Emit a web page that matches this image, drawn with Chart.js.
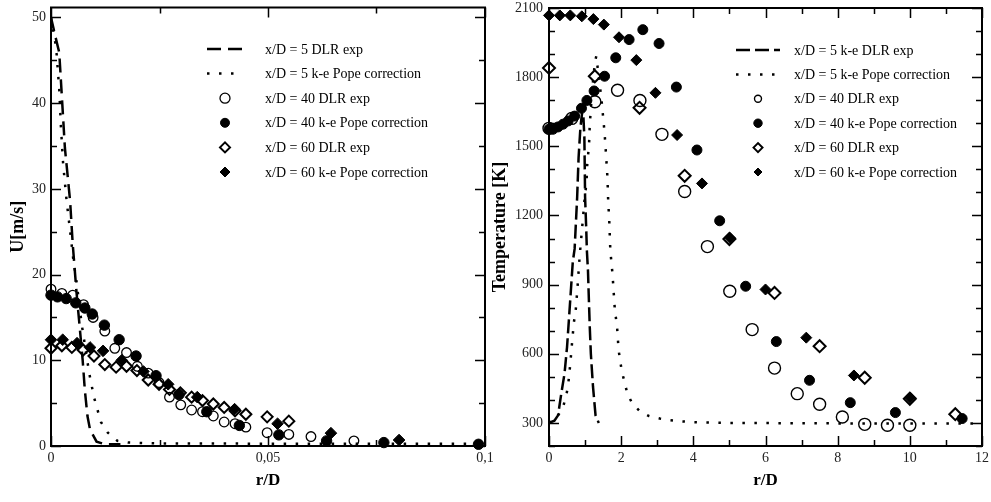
<!DOCTYPE html>
<html>
<head>
<meta charset="utf-8">
<script src="https://cdn.jsdelivr.net/npm/chart.js@4.4.1/dist/chart.umd.min.js"></script>
<style>
  html, body { margin: 0; padding: 0; background: #fff; }
  #wrap { position: relative; width: 991px; height: 502px; overflow: hidden; }
  canvas { position: absolute; top: 0; }
  #velChart { left: 0; }
  #tempChart { left: 488px; }
</style>
</head>
<body>
<div id="wrap">
  <canvas id="velChart" width="495" height="502"></canvas>
  <canvas id="tempChart" width="503" height="502"></canvas>
</div>
<script>
/* ============================================
   Data
   ============================================ */

const velLabels = [
  'x/D = 5 DLR exp',
  'x/D = 5 k-e Pope correction',
  'x/D = 40 DLR exp',
  'x/D = 40 k-e Pope correction',
  'x/D = 60 DLR exp',
  'x/D = 60 k-e Pope correction'
];
const tempLabels = [
  'x/D = 5 k-e DLR exp',
  'x/D = 5 k-e Pope correction',
  'x/D = 40 DLR exp',
  'x/D = 40 k-e Pope correction',
  'x/D = 60 DLR exp',
  'x/D = 60 k-e Pope correction'
];

// U [m/s] vs r/D
const velX5Exp = [[0,50],[0.0009,48],[0.0019,45.9],[0.0032,34.8],[0.0044,28.6],[0.005,23.6],[0.0059,17.8],
  [0.0065,14.5],[0.0073,10],[0.0078,6.5],[0.0084,3.5],[0.009,1.9],[0.0105,0.5],[0.0124,0.2],[0.016,0.2]];
const velX5Pope = [[0,50],[0.0009,47.4],[0.0013,45.7],[0.0019,41.6],[0.0023,37.1],[0.0028,32.9],[0.0036,28.6],
  [0.0044,25.1],[0.0052,21.5],[0.0058,19.5],[0.0065,16.6],[0.0071,14.1],[0.0079,11.5],[0.0088,8.5],[0.0099,5.7],
  [0.0115,2.8],[0.0131,1.55],[0.0153,0.6],[0.0178,0.4],[0.025,0.3],[0.05,0.27],[0.1,0.25]];
const velX40Exp = [[0,18.3],[0.0025,17.8],[0.005,17.6],[0.0075,16.5],[0.0097,15.0],[0.0124,13.4],[0.0147,11.4],
  [0.0174,10.9],[0.0199,9.3],[0.0224,8.5],[0.0249,7.4],[0.0273,5.7],[0.0299,4.8],[0.0324,4.2],[0.0349,4.0],
  [0.0374,3.5],[0.0399,2.8],[0.0424,2.6],[0.0449,2.2],[0.0498,1.55],[0.0548,1.35],[0.0599,1.1],[0.0698,0.6]];
const velX40Pope = [[0,17.6],[0.0015,17.4],[0.0035,17.2],[0.0057,16.7],[0.0078,16.1],[0.0095,15.4],[0.0123,14.1],
  [0.0157,12.4],[0.0196,10.5],[0.0242,8.2],[0.0295,6.0],[0.0359,4.0],[0.0434,2.4],[0.0525,1.3],[0.0635,0.6],
  [0.0767,0.4],[0.0985,0.2]];
const velX60Exp = [[0,11.4],[0.0025,11.7],[0.0048,11.5],[0.0074,11.2],[0.0099,10.5],[0.0124,9.5],[0.015,9.2],
  [0.0174,9.3],[0.0198,8.8],[0.0224,7.7],[0.0249,7.2],[0.0273,6.6],[0.0298,6.2],[0.0324,5.7],[0.0349,5.3],
  [0.0374,4.9],[0.0399,4.5],[0.0424,4.1],[0.0449,3.7],[0.0498,3.4],[0.0548,2.9]];
const velX60Pope = [[0,12.4],[0.0027,12.4],[0.006,12.0],[0.009,11.5],[0.012,11.1],[0.0163,10.0],[0.0213,8.7],
  [0.027,7.2],[0.0337,5.7],[0.0423,4.3],[0.0522,2.6],[0.0645,1.5],[0.0802,0.7]];

// Temperature [K] vs r/D
const tempX5Exp = [[0,300],[0.15,310],[0.25,333],[0.34,427],[0.43,514],[0.5,629],[0.55,744],[0.6,860],[0.66,1000],
  [0.71,1055],[0.78,1278],[0.82,1451],[0.87,1580],[0.92,1650],[0.95,1640],[0.98,1540],[0.99,1420],[1.0,1280],
  [1.03,1150],[1.05,1047],[1.08,961],[1.1,860],[1.13,715],[1.16,600],[1.22,456],[1.29,333],[1.38,300]];
const tempX5Pope = [[0,300],[0.2,320],[0.3,345],[0.39,369],[0.48,420],[0.53,463],[0.59,557],[0.64,650],[0.69,737],
  [0.74,788],[0.79,888],[0.85,1025],[0.92,1150],[0.99,1278],[1.04,1343],[1.06,1422],[1.11,1509],[1.13,1595],
  [1.2,1750],[1.27,1862],[1.31,1891],[1.38,1800],[1.45,1711],[1.54,1559],[1.58,1466],[1.62,1364],[1.64,1264],
  [1.67,1177],[1.7,1047],[1.76,946],[1.82,802],[1.89,708],[1.93,615],[2.02,521],[2.1,475],[2.17,427],[2.3,387],
  [2.51,352],[2.77,330],[3.07,319],[3.36,312],[3.67,307],[3.96,304],[4.27,302],[5,300],[8,298],[12,298]];
const tempX40Exp = [[0,1578],[0.63,1621],[1.27,1693],[1.9,1743],[2.52,1699],[3.13,1552],[3.76,1304],[4.39,1065],
  [5.01,871],[5.63,705],[6.25,538],[6.88,427],[7.5,381],[8.13,326],[8.75,294],[9.38,290],[10.0,290]];
const tempX40Pope = [[0,1574],[0.11,1574],[0.25,1584],[0.39,1596],[0.53,1610],[0.71,1631],[0.9,1665],[1.05,1699],
  [1.25,1740],[1.54,1804],[1.85,1884],[2.22,1963],[2.6,2006],[3.05,1946],[3.53,1757],[4.1,1484],[4.73,1177],
  [5.45,893],[6.3,653],[7.22,485],[8.35,388],[9.6,345],[11.45,319]];
const tempX60Exp = [[0,1840],[1.27,1804],[2.51,1667],[3.76,1372],[5.0,1098],[6.25,864],[7.5,633],[8.75,496],
  [10.0,405],[11.26,338]];
const tempX60Pope = [[0,2068],[0.3,2068],[0.59,2068],[0.91,2064],[1.23,2052],[1.52,2028],[1.94,1973],[2.42,1874],
  [2.95,1732],[3.55,1549],[4.24,1339],[5.02,1102],[6.0,879],[7.13,670],[8.45,506],[10.01,410]];

/* ============================================
   Helpers
   ============================================ */

const SERIF = '"Liberation Serif", "DejaVu Serif", serif';
const toXY = arr => arr.map(p => ({ x: p[0], y: p[1] }));

function lineSet(label, pts, dash) {
  return {
    label, data: toXY(pts), showLine: true, tension: 0,
    borderColor: '#000', borderWidth: 2.5, borderDash: dash,
    pointRadius: 0, pointHoverRadius: 0, fill: false
  };
}

function markerSet(label, pts, style, radius, filled, bw) {
  return {
    label, data: toXY(pts), showLine: false, clip: false,
    pointStyle: style, pointRadius: radius, pointHoverRadius: radius,
    pointBorderWidth: bw, borderColor: '#000',
    pointBackgroundColor: filled ? '#000' : 'rgba(0,0,0,0)',
    backgroundColor: filled ? '#000' : 'rgba(0,0,0,0)'
  };
}

// inward ticks on all four sides + box frame + legend
const framePlugin = {
  id: 'framePlugin',
  afterDraw(chart, args, opts) {
    const { ctx, chartArea: a } = chart;
    const xs = chart.scales.x, ys = chart.scales.y;
    ctx.save();
    ctx.strokeStyle = '#000';
    ctx.lineWidth = 1.5;
    ctx.beginPath();
    xs.ticks.forEach(t => {
      const px = Math.round(xs.getPixelForValue(t.value)) + 0.5;
      const len = opts.isMajorX(t.value) ? 10 : 6;
      ctx.moveTo(px, a.bottom); ctx.lineTo(px, a.bottom - len);
      ctx.moveTo(px, a.top); ctx.lineTo(px, a.top + len);
    });
    ys.ticks.forEach(t => {
      const py = Math.round(ys.getPixelForValue(t.value)) + 0.5;
      const len = opts.isMajorY(t.value) ? 10 : 6;
      ctx.moveTo(a.left, py); ctx.lineTo(a.left + len, py);
      ctx.moveTo(a.right, py); ctx.lineTo(a.right - len, py);
    });
    ctx.stroke();

    ctx.lineWidth = 2;
    ctx.strokeRect(a.left, a.top, a.right - a.left, a.bottom - a.top);

    // legend
    const lg = opts.legend;
    ctx.font = '14px ' + SERIF;
    ctx.textBaseline = 'middle';
    ctx.textAlign = 'left';
    chart.data.datasets.forEach((ds, i) => {
      const y = lg.top + i * lg.gap;
      ctx.fillStyle = '#000';
      ctx.strokeStyle = '#000';
      if (ds.showLine) {
        ctx.lineWidth = ds.borderWidth;
        ctx.setLineDash(ds.borderDash || []);
        ctx.beginPath();
        ctx.moveTo(lg.x0, y); ctx.lineTo(lg.x1, y);
        ctx.stroke();
        ctx.setLineDash([]);
      } else {
        ctx.fillStyle = ds.pointBackgroundColor;
        ctx.lineWidth = ds.pointBorderWidth;
        Chart.helpers.drawPoint(ctx, {
          pointStyle: ds.pointStyle, rotation: 0,
          radius: lg.radii[i], borderWidth: ds.pointBorderWidth
        }, (lg.x0 + lg.x1) / 2, y);
      }
      ctx.fillStyle = '#000';
      ctx.fillText(ds.label, lg.textX, y + 1);
    });
    ctx.restore();
  }
};

function axisOpts(min, max, step, fmt, width, height) {
  const o = {
    type: 'linear', min, max,
    grid: { display: false, drawTicks: false },
    border: { display: false },
    ticks: {
      stepSize: step, includeBounds: false, autoSkip: false, maxRotation: 0,
      color: '#222', font: { family: SERIF, size: 14 }, padding: 5,
      callback: fmt
    }
  };
  // fixed box sizes, and no label overhang padding so the plot area stays put
  o.afterFit = s => {
    if (width) s.width = width;
    if (height) s.height = height;
    s.paddingTop = 0; s.paddingBottom = 0; s.paddingLeft = 0; s.paddingRight = 0;
  };
  return o;
}

/* ============================================
   Velocity chart
   ============================================ */

const near = (v, step) => Math.abs(v / step - Math.round(v / step)) < 1e-6;

const velSets = [
  lineSet(velLabels[0], velX5Exp, [14, 7]),
  lineSet(velLabels[1], velX5Pope, [2.5, 9.5]),
  markerSet(velLabels[2], velX40Exp, 'circle', 4.8, false, 1.3),
  markerSet(velLabels[3], velX40Pope, 'circle', 5.2, true, 1),
  markerSet(velLabels[4], velX60Exp, 'rectRot', 5.5, false, 2),
  markerSet(velLabels[5], velX60Pope, 'rectRot', 5.8, true, 1)
];
velSets.forEach((d, i) => { d.order = 6 - i; });

const velX = axisOpts(0, 0.1, 0.025,
  v => near(v, 0.05) ? (v < 1e-9 ? '0' : String(Math.round(v * 100) / 100).replace('.', ',')) : '',
  null, 56);
velX.ticks.padding = 4;
velX.title = { display: true, text: 'r/D', color: '#000',
  font: { family: SERIF, size: 17, weight: 'bold' }, padding: { bottom: 11 } };

const velY = axisOpts(0, 51.16, 5, v => near(v, 10) ? String(Math.round(v)) : '', 51, null);
velY.title = { display: true, text: 'U[m/s]', color: '#000',
  font: { family: SERIF, size: 18, weight: 'bold' }, padding: { top: 8 } };

new Chart(document.getElementById('velChart'), {
  type: 'scatter',
  data: { datasets: velSets },
  options: {
    responsive: false, animation: false, devicePixelRatio: 1,
    layout: { padding: { top: 6, right: 10, left: 0, bottom: 0 } },
    plugins: {
      legend: { display: false }, tooltip: { enabled: false },
      framePlugin: {
        isMajorX: v => near(v, 0.05), isMajorY: v => near(v, 10),
        legend: { top: 49, gap: 24.6, x0: 207, x1: 243, textX: 265, radii: [0, 0, 5, 4.5, 5, 5] }
      }
    },
    scales: { x: velX, y: velY }
  },
  plugins: [framePlugin]
});

/* ============================================
   Temperature chart
   ============================================ */

const tempSets = [
  lineSet(tempLabels[0], tempX5Exp, [14, 5]),
  lineSet(tempLabels[1], tempX5Pope, [2.5, 9.5]),
  markerSet(tempLabels[2], tempX40Exp, 'circle', 6, false, 1.4),
  markerSet(tempLabels[3], tempX40Pope, 'circle', 5, true, 1),
  markerSet(tempLabels[4], tempX60Exp, 'rectRot', 6, false, 2),
  markerSet(tempLabels[5], tempX60Pope, 'rectRot', 5.5, true, 1)
];
tempSets.forEach((d, i) => { d.order = 6 - i; });

const tempX = axisOpts(0, 12, 1, v => near(v, 2) ? String(Math.round(v)) : '', null, 56);
tempX.ticks.padding = 4;
tempX.title = { display: true, text: 'r/D', color: '#000',
  font: { family: SERIF, size: 17, weight: 'bold' }, padding: { bottom: 11 } };

const tempY = axisOpts(200, 2100, 100, v => near(v, 300) ? String(Math.round(v)) : '', 61, null);
tempY.ticks.padding = 6;
tempY.title = { display: true, text: 'Temperature [K]', color: '#000',
  font: { family: SERIF, size: 18, weight: 'bold' }, padding: { top: 2 } };

new Chart(document.getElementById('tempChart'), {
  type: 'scatter',
  data: { datasets: tempSets },
  options: {
    responsive: false, animation: false, devicePixelRatio: 1,
    layout: { padding: { top: 6, right: 9, left: 0, bottom: 0 } },
    plugins: {
      legend: { display: false }, tooltip: { enabled: false },
      framePlugin: {
        isMajorX: v => near(v, 2), isMajorY: v => near(v, 300),
        legend: { top: 50, gap: 24.4, x0: 736 - 488, x1: 780 - 488, textX: 794 - 488, radii: [0, 0, 3.5, 4.2, 4.5, 4] }
      }
    },
    scales: { x: tempX, y: tempY }
  },
  plugins: [framePlugin]
});
</script>
</body>
</html>
